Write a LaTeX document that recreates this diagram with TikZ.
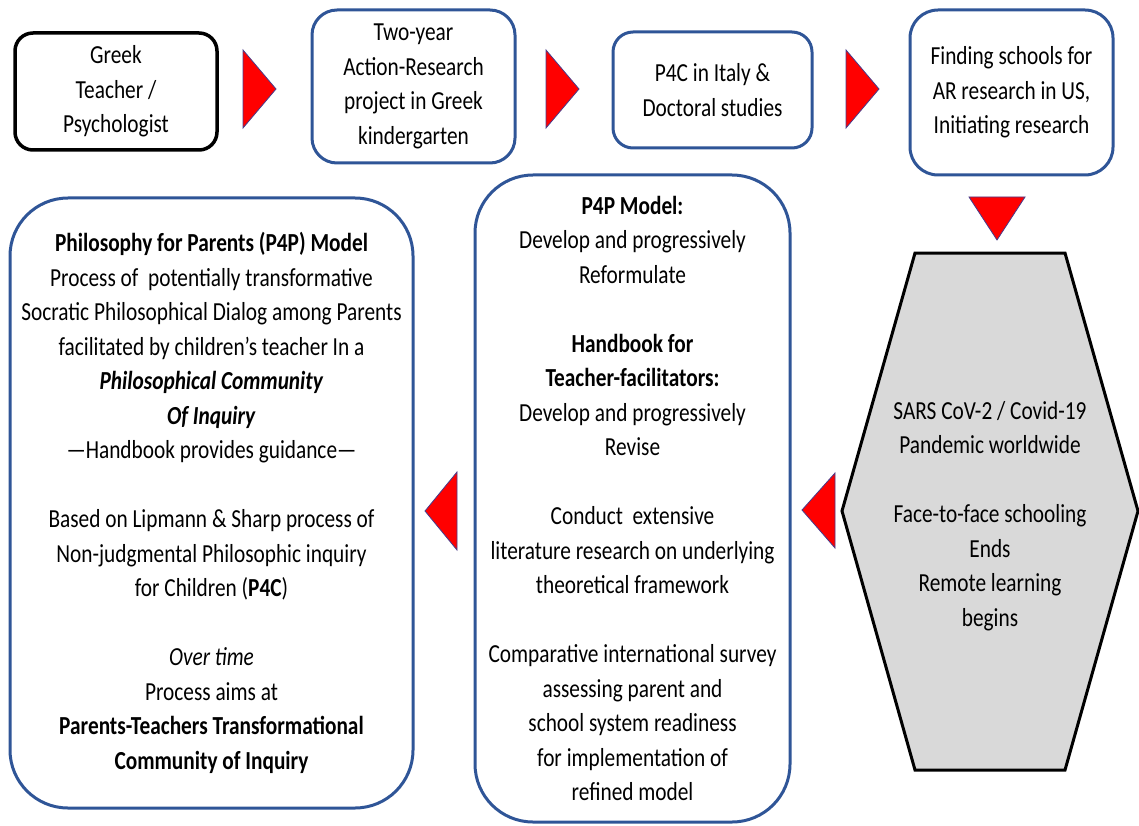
\documentclass[tikz,border=0pt]{standalone}
\usepackage{fontspec}
\setmainfont{Carlito}[FakeStretch=0.82]
\usetikzlibrary{calc}
\definecolor{boxblue}{RGB}{47,85,151}
\definecolor{arrred}{RGB}{255,0,0}
\definecolor{hexgray}{RGB}{217,217,217}
\definecolor{triedge}{RGB}{70,60,140}
\begin{document}
\begin{tikzpicture}[x=1pt,y=-1pt,
  every node/.style={font=\fontsize{26}{34.5}\selectfont, align=center, inner sep=0pt, text=black},
  bluebox/.style={draw=boxblue, line width=3pt, rounded corners=#1},
  blackbox/.style={draw=black, line width=3.5pt, rounded corners=#1},
  tri/.style={fill=arrred, draw=triedge, line width=0.8pt, line join=miter},
  hexshape/.style={fill=hexgray, draw=black, line width=3pt, line join=miter}]
\useasboundingbox (0,0) rectangle (1139,826);

% top row
\node[blackbox=18, minimum width=202, minimum height=117] (b1) at (116,91.5)
  {Greek\\Teacher /\\Psychologist};
\node[bluebox=25, minimum width=203, minimum height=153] (b2) at (413.5,86.5)
  {Two-year\\Action-Research\\project in Greek\\kindergarten};
\node[bluebox=20, minimum width=199, minimum height=116] (b3) at (712.5,90)
  {P4C in Italy \&\\Doctoral studies};
\node[bluebox=28, minimum width=203, minimum height=165] (b4) at (1011.5,92.5)
  {Finding schools for\\AR research in US,\\Initiating research};

% hexagon
\coordinate (h1) at (915,253);
\coordinate (h2) at (1065,253);
\coordinate (h3) at (1138,511);
\coordinate (h4) at (1065,770);
\coordinate (h5) at (915,770);
\coordinate (h6) at (842,511);
\draw[hexshape] (h1) -- (h2) -- (h3) -- (h4) -- (h5) -- (h6) -- cycle;
\node (hex) at (990,516)
  {SARS CoV-2 / Covid-19\\Pandemic worldwide\\[34.5pt]
   Face-to-face schooling\\Ends\\Remote learning\\begins};

% middle box
\node[bluebox=58, minimum width=315, minimum height=647] (mid) at (632.5,498.5)
  {\textbf{P4P Model:}\\Develop and progressively\\Reformulate\\[34.5pt]
   \textbf{Handbook for}\\\textbf{Teacher-facilitators:}\\Develop and progressively\\Revise\\[34.5pt]
   Conduct\ \ extensive\\literature research on underlying\\theoretical framework\\[34.5pt]
   Comparative international survey\\assessing parent and\\school system readiness\\for implementation of\\refined model};

% left box
\node[bluebox=58, minimum width=403, minimum height=610] (left) at (211.5,503)
  {\textbf{Philosophy for Parents (P4P) Model}\\
   Process of\ \ potentially transformative\\
   Socratic Philosophical Dialog among Parents\\
   facilitated by children’s teacher In a\\
   \textbf{\textit{Philosophical Community}}\\
   \textbf{\textit{Of Inquiry}}\\
   —Handbook provides guidance—\\[34.5pt]
   Based on Lipmann \& Sharp process of\\
   Non-judgmental Philosophic inquiry\\
   for Children (\textbf{P4C})\\[34.5pt]
   \textit{Over time}\\
   Process aims at\\
   \textbf{Parents-Teachers Transformational}\\
   \textbf{Community of Inquiry}};

% red triangle arrows
\draw[tri] (243,50) -- (276,89) -- (243,128) -- cycle;
\draw[tri] (546,50) -- (579,89) -- (546,128) -- cycle;
\draw[tri] (846,50) -- (879,89) -- (846,128) -- cycle;
\draw[tri] (969,197) -- (1025,197) -- (997,240) -- cycle;
\draw[tri] (835,473) -- (802,510) -- (835,548) -- cycle;
\draw[tri] (457,472) -- (425,511) -- (457,550) -- cycle;
\end{tikzpicture}
\end{document}
